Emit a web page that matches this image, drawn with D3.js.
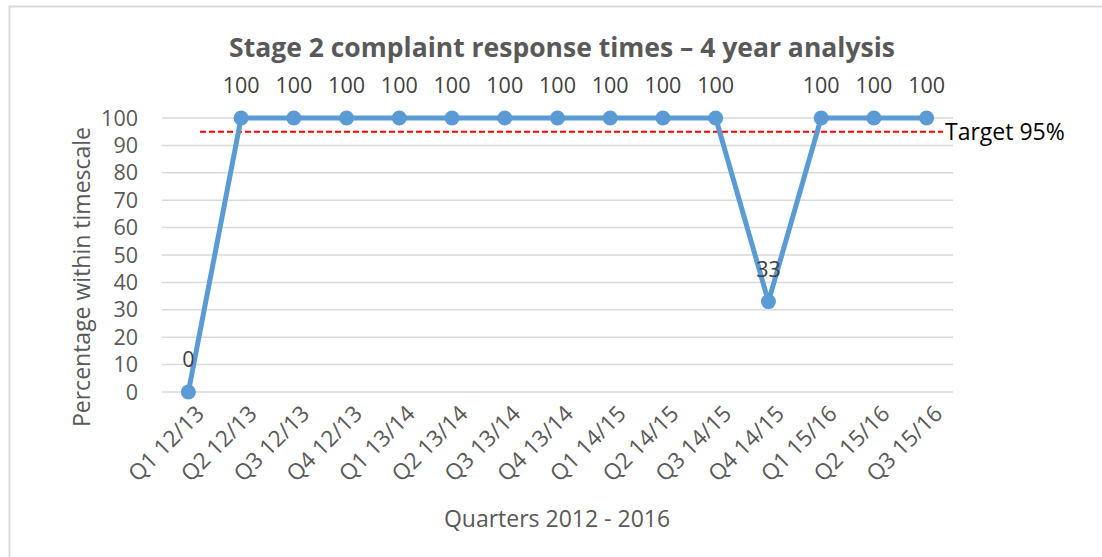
<!DOCTYPE html>
<html>
<head>
<meta charset="utf-8">
<script src="https://cdn.jsdelivr.net/npm/d3@7"></script>
<style>
  body { margin: 0; background: #fff; }
  svg { display: block; font-family: "Open Sans", sans-serif; }
</style>
</head>
<body>
<svg id="chart" width="1102" height="557"></svg>
<script>
// data
const quarters = ["Q1 12/13", "Q2 12/13", "Q3 12/13", "Q4 12/13",
  "Q1 13/14", "Q2 13/14", "Q3 13/14", "Q4 13/14",
  "Q1 14/15", "Q2 14/15", "Q3 14/15", "Q4 14/15",
  "Q1 15/16", "Q2 15/16", "Q3 15/16"];
const percentWithin = [0, 100, 100, 100, 100, 100, 100, 100, 100, 100, 100, 33, 100, 100, 100];
const yTicks = [0, 10, 20, 30, 40, 50, 60, 70, 80, 90, 100];
const target = 95;

const svg = d3.select("#chart");
const plot = { left: 162, right: 953, top: 118, bottom: 392 };

// outer border (only top and left visible in the crop)
svg.append("rect")
  .attr("x", 9.5).attr("y", 6.5)
  .attr("width", 1200).attr("height", 600)
  .attr("fill", "none")
  .attr("stroke", "#d9d9d9")
  .attr("stroke-width", 2);

const x = d3.scaleBand().domain(quarters).range([plot.left, plot.right]);
const y = d3.scaleLinear().domain([0, 100]).range([plot.bottom, plot.top]);
const cx = d => x(d) + x.bandwidth() / 2;

// gridlines
svg.append("g")
  .selectAll("line")
  .data(yTicks)
  .join("line")
  .attr("x1", plot.left).attr("x2", plot.right)
  .attr("y1", d => y(d)).attr("y2", d => y(d))
  .attr("stroke", "#d9d9d9")
  .attr("stroke-width", 1.5);

// y tick labels
svg.append("g")
  .selectAll("text")
  .data(yTicks)
  .join("text")
  .attr("x", 138)
  .attr("y", d => y(d))
  .attr("dy", "0.35em")
  .attr("text-anchor", "end")
  .attr("fill", "#595959")
  .style("font-size", "21.5px")
  .text(d => d);

// x tick labels, rotated
svg.append("g")
  .selectAll("text")
  .data(quarters)
  .join("text")
  .attr("transform", d => `translate(${cx(d) + 6},${plot.bottom + 12}) rotate(-45)`)
  .attr("text-anchor", "end")
  .attr("dy", "0.7em")
  .attr("fill", "#595959")
  .style("font-size", "22.5px")
  .text(d => d);

// target line
svg.append("line")
  .attr("x1", 200).attr("x2", 943)
  .attr("y1", y(target)).attr("y2", y(target))
  .attr("stroke", "#ff0000")
  .attr("stroke-width", 2)
  .attr("stroke-dasharray", "6,3");

svg.append("text")
  .attr("x", 945)
  .attr("y", y(target))
  .attr("dy", "0.35em")
  .attr("fill", "#000")
  .style("font-size", "23px")
  .text("Target " + target + "%");

// series line
const line = d3.line()
  .x((d, i) => cx(quarters[i]))
  .y(d => y(d));

svg.append("path")
  .datum(percentWithin)
  .attr("d", line)
  .attr("fill", "none")
  .attr("stroke", "#5b9bd5")
  .attr("stroke-width", 5)
  .attr("stroke-linejoin", "round");

svg.append("g")
  .selectAll("circle")
  .data(percentWithin)
  .join("circle")
  .attr("cx", (d, i) => cx(quarters[i]))
  .attr("cy", d => y(d))
  .attr("r", 7.5)
  .attr("fill", "#5b9bd5");

// data labels
svg.append("g")
  .selectAll("text")
  .data(percentWithin)
  .join("text")
  .attr("x", (d, i) => cx(quarters[i]))
  .attr("y", d => y(d) - 25)
  .attr("text-anchor", "middle")
  .attr("fill", "#404040")
  .style("font-size", "21.5px")
  .text(d => d);

// title
svg.append("text")
  .attr("x", 562).attr("y", 57)
  .attr("text-anchor", "middle")
  .attr("fill", "#595959")
  .style("font-size", "26.5px")
  .style("font-weight", "bold")
  .text("Stage 2 complaint response times – 4 year analysis");

// axis titles
svg.append("text")
  .attr("transform", "translate(90,277) rotate(-90)")
  .attr("text-anchor", "middle")
  .attr("fill", "#595959")
  .style("font-size", "23px")
  .text("Percentage within timescale");

svg.append("text")
  .attr("x", 557).attr("y", 527)
  .attr("text-anchor", "middle")
  .attr("fill", "#595959")
  .style("font-size", "23px")
  .text("Quarters 2012 - 2016");
</script>
</body>
</html>
